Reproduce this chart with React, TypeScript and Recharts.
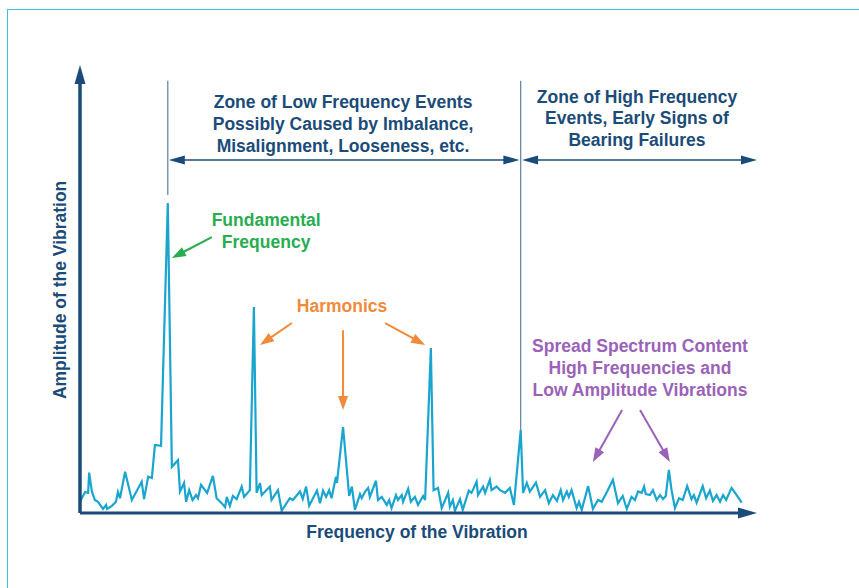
import React from 'react';
import {
  ComposedChart,
  Line,
  XAxis,
  YAxis,
  ReferenceLine,
  ReferenceDot,
} from 'recharts';

// Spectrum samples (frequency in arbitrary units, amplitude in % of full scale)
const frequency = [
  0, 1.5, 2.4, 2.7, 3.5, 4.4, 5.3, 6.8, 7.7, 8.0, 9.4, 10.6, 11.2, 11.8, 13.3, 15.3, 18.2, 18.9, 20.1, 21.2,
  22.1, 23.9, 25.9, 27.1, 28.9, 29.5, 30.7, 31.3, 32.2, 33.2, 34.2, 34.8, 35.7, 37.5, 39.2, 40.3, 41.8, 42.8,
  43.3, 44.2, 45.1, 46.2, 47.7, 48.4, 50.1, 51.3, 52.1, 53.1, 53.6, 56.0, 56.5, 58.4, 59.5, 61.9, 62.8, 64.9,
  65.7, 66.7, 67.6, 69.9, 70.8, 71.7, 72.6, 73.5, 74.2, 75.5, 75.8, 77.6, 79.4, 80.2, 81.1, 82.6, 83.1, 84.1,
  85.0, 85.5, 87.3, 87.9, 89.0, 90.5, 91.2, 91.9, 93.2, 93.8, 94.9, 95.3, 96.8, 97.6, 98.8, 99.7, 101.2, 101.8,
  103.5, 104.3, 105.6, 106.7, 108.6, 109.1, 110.0, 110.6, 112.1, 112.9, 114.7, 115.5, 117.0, 117.4, 118.9,
  119.5, 120.9, 121.4, 122.9, 123.9, 125.4, 126.8, 128.0, 130.0, 130.7, 131.8, 132.7, 134.5, 135.7, 137.2,
  138.3, 139.5, 140.7, 141.8, 142.5, 143.6, 144.2, 145.0, 146.5, 147.2, 148.0, 149.9, 151.3, 152.8, 153.9,
  155.5, 157.2, 158.7, 160.1, 161.3, 162.7, 163.7, 164.6, 165.7, 166.4, 166.9, 168.1, 169.0, 170.1, 171.1,
  172.0, 172.8, 173.7, 174.5, 175.5, 176.7, 177.8, 179.1, 180.4, 181.1, 181.9, 183.7, 184.7, 185.8, 186.7,
  187.8, 188.8, 189.7, 190.6, 192.2, 193.7, 195.2,
];

const amplitude = [
  2.5, 4.7, 4.5, 9.0, 4.8, 2.9, 2.5, 0.9, 1.8, 0.9, 1.6, 2.5, 4.7, 3.3, 9.2, 2.9, 7.0, 3.1, 8.1, 7.8,
  15.2, 15.0, 69.2, 10.3, 11.8, 4.8, 6.7, 2.5, 5.1, 2.9, 4.0, 3.3, 6.3, 4.5, 8.3, 3.3, 2.2, 1.3,
  3.6, 1.6, 3.8, 3.1, 5.9, 3.6, 5.1, 46.0, 4.5, 6.7, 4.0, 5.9, 2.9, 5.1, 0.5, 3.3, 2.9, 4.8,
  3.1, 5.9, 1.6, 5.0, 2.2, 5.0, 3.6, 5.1, 3.3, 8.1, 6.7, 19.2, 3.8, 5.9, 0.7, 4.2, 3.3, 4.8,
  5.6, 3.6, 7.2, 2.9, 3.6, 1.8, 2.9, 1.1, 4.0, 2.9, 4.0, 2.5, 5.4, 2.5, 3.6, 1.8, 3.8, 2.9,
  36.8, 5.1, 5.6, 1.1, 4.5, 1.4, 2.9, 0.5, 3.1, 0.7, 5.0, 4.5, 7.0, 4.0, 5.9,
  4.5, 7.4, 5.1, 5.9, 5.1, 4.5, 5.6, 1.8, 18.5, 4.5, 6.7, 4.8, 6.8, 3.6, 5.1,
  2.2, 4.0, 2.7, 5.1, 2.9, 4.8, 3.6, 5.1, 1.1, 2.5, 0.7, 6.0, 0.9, 2.9, 2.5,
  4.8, 7.4, 2.2, 3.8, 0.9, 3.6, 2.9, 4.8, 4.5, 5.9, 4.2, 4.0, 5.1, 2.9, 4.0,
  3.1, 3.8, 9.6, 5.1, 1.1, 3.3, 2.9, 6.0, 3.1, 4.0, 2.3, 6.0, 3.3, 5.0, 2.7,
  4.0, 2.5, 4.0, 2.9, 5.6, 4.0, 2.3,
];

const fundamentalFreq = 25.9;
const zoneBoundaryFreq = 130.0;
const zoneArrowLevel = 78.8;

const lowZoneText = ['Zone of Low Frequency Events', 'Possibly Caused by Imbalance,', 'Misalignment, Looseness, etc.'];
const highZoneText = ['Zone of High Frequency', 'Events, Early Signs of', 'Bearing Failures'];
const fundamentalText = ['Fundamental', 'Frequency'];
const harmonicsText = ['Harmonics'];
const spreadText = ['Spread Spectrum Content', 'High Frequencies and', 'Low Amplitude Vibrations'];

const data = frequency.map((f, i) => ({ f, a: amplitude[i] }));

const NAVY = '#1b4b78';
const CYAN = '#1aa5cf';
const GREEN = '#27ad4f';
const ORANGE = '#f18a3a';
const PURPLE = '#9a62b8';
const FONT = '"Liberation Sans", Arial, Helvetica, sans-serif';
const FONT_SIZE = 17.5;

type ArrowOpts = { color: string; width: number; headLen: number; headW: number; both?: boolean };

function head(x: number, y: number, fx: number, fy: number, len: number, w: number, color: string) {
  // arrowhead with tip at (x, y), pointing away from (fx, fy)
  const dx = x - fx;
  const dy = y - fy;
  const d = Math.hypot(dx, dy) || 1;
  const ux = dx / d;
  const uy = dy / d;
  const bx = x - ux * len;
  const by = y - uy * len;
  const pts = `${x},${y} ${bx - uy * w / 2},${by + ux * w / 2} ${bx + uy * w / 2},${by - ux * w / 2}`;
  return <polygon points={pts} fill={color} />;
}

const arrowShape = (o: ArrowOpts) => (p: any) => {
  const { x1, y1, x2, y2 } = p;
  const d = Math.hypot(x2 - x1, y2 - y1) || 1;
  const sx = o.both ? x1 + ((x2 - x1) / d) * (o.headLen - 2) : x1;
  const sy = o.both ? y1 + ((y2 - y1) / d) * (o.headLen - 2) : y1;
  const ex = x2 - ((x2 - x1) / d) * (o.headLen - 2);
  const ey = y2 - ((y2 - y1) / d) * (o.headLen - 2);
  return (
    <g>
      <line x1={sx} y1={sy} x2={ex} y2={ey} stroke={o.color} strokeWidth={o.width} />
      {head(x2, y2, x1, y1, o.headLen, o.headW, o.color)}
      {o.both && head(x1, y1, x2, y2, o.headLen, o.headW, o.color)}
    </g>
  );
};

const textShape = (lines: string[], color: string, lineH = 22, rotate = false) => (p: any) => {
  const { cx, cy } = p;
  return (
    <text
      x={cx}
      y={cy}
      textAnchor="middle"
      fill={color}
      fontFamily={FONT}
      fontWeight="bold"
      fontSize={FONT_SIZE}
      transform={rotate ? `rotate(-90 ${cx} ${cy})` : undefined}
    >
      {lines.map((l, i) => (
        <tspan key={i} x={cx} y={cy + i * lineH} dominantBaseline="central">
          {l}
        </tspan>
      ))}
    </text>
  );
};

export default function App() {
  const seg = (from: [number, number], to: [number, number], o: ArrowOpts, key: string) => (
    <ReferenceLine
      key={key}
      segment={[{ x: from[0], y: from[1] }, { x: to[0], y: to[1] }]}
      ifOverflow="visible"
      shape={arrowShape(o)}
    />
  );
  const label = (f: number, a: number, lines: string[], color: string, key: string, lineH = 22, rotate = false) => (
    <ReferenceDot
      key={key}
      x={f}
      y={a}
      r={0}
      ifOverflow="visible"
      shape={textShape(lines, color, lineH, rotate)}
    />
  );

  const annoArrow: ArrowOpts = { color: GREEN, width: 2, headLen: 14, headW: 10 };

  return (
    <div style={{ position: 'absolute', left: 0, top: 0, width: 859, height: 588, background: '#fff' }}>
      <div
        style={{
          position: 'absolute',
          left: 7,
          top: 9,
          right: 0,
          bottom: 0,
          borderTop: '1.5px solid #3ec0df',
          borderLeft: '1.5px solid #3ec0df',
        }}
      />
      <ComposedChart
        width={859}
        height={588}
        data={data}
        margin={{ top: 65, right: 101, bottom: 75, left: 80 }}
        style={{ position: 'absolute', left: 0, top: 0 }}
      >
        <XAxis dataKey="f" type="number" domain={[0, 200]} hide />
        <YAxis type="number" domain={[0, 100]} hide />

        {/* zone boundaries */}
        <ReferenceLine
          segment={[{ x: fundamentalFreq, y: 96.5 }, { x: fundamentalFreq, y: 71 }]}
          stroke="#5a80a6"
          strokeWidth={1.2}
          ifOverflow="visible"
        />
        <ReferenceLine
          segment={[{ x: zoneBoundaryFreq, y: 96.5 }, { x: zoneBoundaryFreq, y: 18.5 }]}
          stroke="#5a80a6"
          strokeWidth={1.2}
          ifOverflow="visible"
        />

        <Line
          type="linear"
          dataKey="a"
          stroke={CYAN}
          strokeWidth={2.2}
          dot={false}
          isAnimationActive={false}
        />

        {/* axes */}
        {seg([0, 0], [0, 100], { color: NAVY, width: 3.5, headLen: 19, headW: 11 }, 'yaxis')}
        {seg([0, 0], [199.7, 0], { color: NAVY, width: 3, headLen: 19, headW: 11 }, 'xaxis')}

        {/* zone spans */}
        {seg([fundamentalFreq + 0.3, zoneArrowLevel], [zoneBoundaryFreq - 0.4, zoneArrowLevel],
          { color: NAVY, width: 1.6, headLen: 16, headW: 9, both: true }, 'lowzone')}
        {seg([zoneBoundaryFreq + 0.4, zoneArrowLevel], [199.7, zoneArrowLevel],
          { color: NAVY, width: 1.6, headLen: 16, headW: 9, both: true }, 'highzone')}

        {/* callout arrows */}
        {seg([38.9, 61.6], [27.1, 56.9], annoArrow, 'g1')}
        {seg([62.5, 42.4], [53.1, 37.5], { ...annoArrow, color: ORANGE }, 'o1')}
        {seg([77.6, 40.8], [77.6, 23.0], { ...annoArrow, color: ORANGE }, 'o2')}
        {seg([90.0, 42.4], [101.8, 37.5], { ...annoArrow, color: ORANGE }, 'o3')}
        {seg([159.9, 23.0], [151.3, 11.4], { ...annoArrow, color: PURPLE }, 'p1')}
        {seg([165.2, 23.0], [174.0, 11.4], { ...annoArrow, color: PURPLE }, 'p2')}

        {/* text */}
        {label(77.6, 91.7, lowZoneText, NAVY, 't1')}
        {label(164.3, 92.9, highZoneText, NAVY, 't2', 21.5)}
        {label(54.9, 65.4, fundamentalText, GREEN, 't3')}
        {label(77.3, 46.2, harmonicsText, ORANGE, 't4')}
        {label(165.2, 37.3, spreadText, PURPLE, 't5')}
        {label(99.4, -4.2, ['Frequency of the Vibration'], NAVY, 't6')}
        {label(-5.9, 49.8, ['Amplitude of the Vibration'], NAVY, 't7', 22, true)}
      </ComposedChart>
    </div>
  );
}
